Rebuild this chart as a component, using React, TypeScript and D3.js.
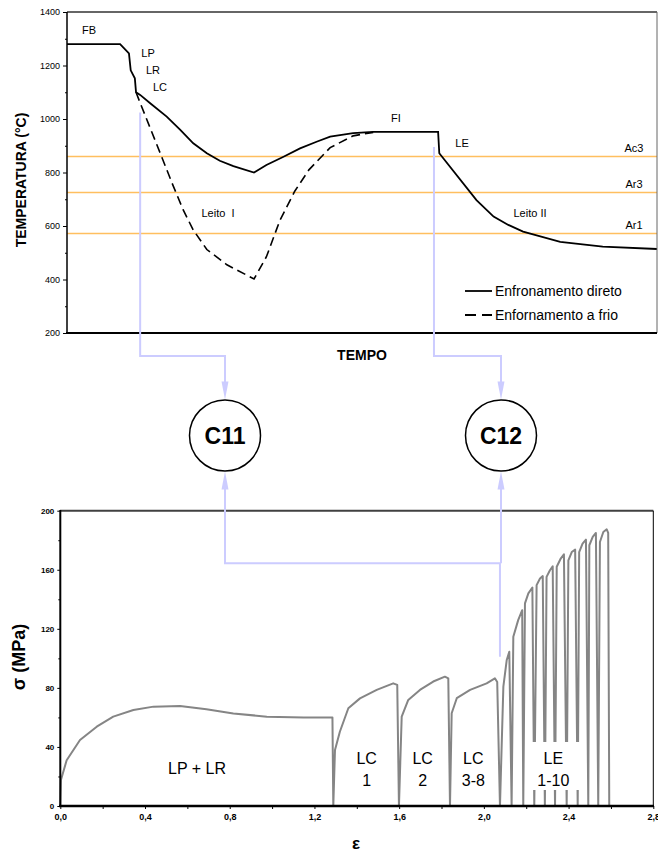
import React, { useEffect, useRef } from 'react';
import * as d3 from 'd3';

// Top chart: thermal schedule (time is schematic, 0-100)
const tempoDireto = [0, 9.0, 10.5, 10.8, 11.5, 11.7, 12.4, 14.1, 16.9, 19.2, 21.4, 23.7, 25.9, 28.2, 31.7, 33.8, 36.7, 39.5, 42.3, 44.6, 48.5, 51.9, 62.9, 63.1, 69.4, 72.3, 74.8, 77.3, 83.6, 90.8, 100];
const tempDireto = [1280, 1280, 1245, 1182, 1152, 1100, 1090, 1059, 1009, 959, 909, 872, 844, 824, 800, 828, 859, 890, 915, 934, 947, 952, 952, 872, 697, 635, 604, 579, 541, 523, 514];

const tempoFrio = [11.7, 12.4, 15.8, 18.0, 19.7, 21.4, 23.7, 27.1, 31.7, 33.8, 36.1, 38.6, 41.0, 44.6, 48.5, 51.9];
const tempFrio = [1100, 1060, 872, 750, 660, 585, 512, 455, 402, 485, 622, 730, 810, 893, 937, 950];

const critNomes = ['Ac3', 'Ar3', 'Ar1'];
const critTemps = [860, 725, 572];

const tempTicks = [200, 400, 600, 800, 1000, 1200, 1400];
const tempMinor = [300, 500, 700, 900, 1100, 1300];

// Bottom chart: stress-strain curve of the torsion simulation
const strain = [
  0, 0.003, 0.03, 0.093, 0.172, 0.25, 0.345, 0.44, 0.565, 0.69, 0.817, 0.975, 1.15, 1.273, 1.285, 1.289,
  1.297, 1.32, 1.36, 1.415, 1.494, 1.572, 1.591, 1.599,
  1.612, 1.643, 1.698, 1.761, 1.816, 1.832, 1.84,
  1.848, 1.872, 1.935, 2.013, 2.052, 2.063, 2.076,
  2.092, 2.108, 2.12, 2.131,
  2.139, 2.162, 2.181, 2.186,
  2.194, 2.21, 2.229, 2.238,
  2.249, 2.265, 2.278, 2.288,
  2.296, 2.312, 2.325, 2.336,
  2.344, 2.363, 2.378, 2.391,
  2.399, 2.415, 2.431, 2.443,
  2.45, 2.466, 2.482, 2.493,
  2.498, 2.514, 2.529, 2.54,
  2.548, 2.564, 2.58, 2.587, 2.592,
];
const stress = [
  0, 17.6, 31, 44.7, 53.7, 60.5, 65, 67.3, 67.7, 65.5, 62.7, 60.5, 60, 60, 59.9, 0,
  38, 50.3, 66.2, 72.9, 78.6, 83.1, 82, 0,
  60.5, 71.8, 78.6, 84.3, 87.6, 86.5, 0,
  62.8, 73, 78.6, 83.1, 86.5, 84, 0,
  80.8, 98.9, 104.5, 0,
  114.6, 125.9, 132.6, 0,
  137.2, 144, 148, 0,
  149.6, 154.1, 155.7, 0,
  155.2, 159.7, 162.4, 0,
  162, 167.6, 170.5, 0,
  166.4, 172, 173.6, 0,
  172, 177.7, 180.4, 0,
  176.6, 182.2, 184.9, 0,
  178.8, 185.6, 187.4, 185, 0,
];

const strainTicks = [0, 0.4, 0.8, 1.2, 1.6, 2.0, 2.4, 2.8];
const strainMinor = [0.2, 0.6, 1.0, 1.4, 1.8, 2.2, 2.6];
const stressTicks = [0, 40, 80, 120, 160, 200];
const stressMinor = [20, 60, 100, 140, 180];

const FONT = "'Liberation Sans', Arial, Helvetica, sans-serif";
const LAVENDER = '#CCCCFF';

function App() {
  const svgRef = useRef<SVGSVGElement>(null);
  const width = 658;
  const height = 854;

  useEffect(() => {
    if (!svgRef.current) return;
    const svg = d3.select(svgRef.current);
    svg.selectAll('*').remove();
    svg.style('font-family', FONT);

    // ---------- top chart ----------
    const xTop = d3.scaleLinear().domain([0, 100]).range([67, 657]);
    const yTop = d3.scaleLinear().domain([200, 1400]).range([333, 12]);

    const top = svg.append('g');

    // critical temperature lines
    top.selectAll('.crit')
      .data(critTemps)
      .enter().append('line')
      .attr('x1', xTop(0)).attr('x2', xTop(100))
      .attr('y1', d => yTop(d)).attr('y2', d => yTop(d))
      .attr('stroke', '#FFBF5F')
      .attr('stroke-width', 1.6);

    top.selectAll('.critLabel')
      .data(critTemps)
      .enter().append('text')
      .attr('x', 634)
      .attr('y', d => yTop(d) - 8)
      .attr('text-anchor', 'middle')
      .attr('dy', '0.35em')
      .style('font-size', '11px')
      .text((d, i) => critNomes[i]);

    const tempLine = d3.line<[number, number]>()
      .x(d => xTop(d[0]))
      .y(d => yTop(d[1]));

    top.append('path')
      .attr('d', tempLine(tempoFrio.map((t, i) => [t, tempFrio[i]] as [number, number])))
      .attr('fill', 'none')
      .attr('stroke', '#000')
      .attr('stroke-width', 1.6)
      .attr('stroke-dasharray', '9,5');

    top.append('path')
      .attr('d', tempLine(tempoDireto.map((t, i) => [t, tempDireto[i]] as [number, number])))
      .attr('fill', 'none')
      .attr('stroke', '#000')
      .attr('stroke-width', 1.8);

    // frame
    top.append('line').attr('x1', 67).attr('x2', 657).attr('y1', 12).attr('y2', 12)
      .attr('stroke', '#333').attr('stroke-width', 1.5);
    top.append('line').attr('x1', 657).attr('x2', 657).attr('y1', 12).attr('y2', 333)
      .attr('stroke', '#666').attr('stroke-width', 1);
    top.append('line').attr('x1', 67).attr('x2', 67).attr('y1', 12).attr('y2', 333)
      .attr('stroke', '#000').attr('stroke-width', 1.5);
    top.append('line').attr('x1', 66).attr('x2', 657).attr('y1', 333).attr('y2', 333)
      .attr('stroke', '#000').attr('stroke-width', 2);

    const yAxisTop = top.append('g')
      .attr('transform', 'translate(67,0)')
      .call(d3.axisLeft(yTop).tickValues(tempTicks).tickSize(4).tickPadding(3).tickFormat(d3.format('d')));
    yAxisTop.select('.domain').remove();
    yAxisTop.selectAll('text').style('font-size', '9px').style('font-family', FONT).attr('fill', '#000');
    const yMinorTop = top.append('g')
      .attr('transform', 'translate(67,0)')
      .call(d3.axisLeft(yTop).tickValues(tempMinor).tickSize(2).tickFormat(() => ''));
    yMinorTop.select('.domain').remove();

    // annotations on top chart
    const notas: [string, number, number][] = [
      ['FB', 89, 30], ['LP', 148, 53], ['LR', 153, 70], ['LC', 160, 87],
      ['FI', 396, 118], ['LE', 462, 143], ['Leito  I', 218, 213], ['Leito II', 530, 213],
    ];
    top.selectAll('.nota')
      .data(notas)
      .enter().append('text')
      .attr('x', d => d[1]).attr('y', d => d[2])
      .attr('dy', '0.35em')
      .attr('text-anchor', 'middle')
      .style('font-size', '11px')
      .style('white-space', 'pre')
      .attr('xml:space', 'preserve')
      .text(d => d[0]);

    // legend
    top.append('line').attr('x1', 465).attr('x2', 492).attr('y1', 291).attr('y2', 291)
      .attr('stroke', '#000').attr('stroke-width', 1.8);
    top.append('text').attr('x', 495).attr('y', 291).attr('dy', '0.35em')
      .style('font-size', '14px').text('Enfronamento direto');
    top.append('line').attr('x1', 465).attr('x2', 492).attr('y1', 315).attr('y2', 315)
      .attr('stroke', '#000').attr('stroke-width', 1.8).attr('stroke-dasharray', '11,6');
    top.append('text').attr('x', 495).attr('y', 315).attr('dy', '0.35em')
      .style('font-size', '14px').text('Enfornamento a frio');

    // axis titles
    top.append('text')
      .attr('transform', 'translate(21,180) rotate(-90)')
      .attr('text-anchor', 'middle').attr('dy', '0.35em')
      .style('font-size', '14px').style('font-weight', 'bold')
      .text('TEMPERATURA (°C)');
    top.append('text')
      .attr('x', 362).attr('y', 355).attr('dy', '0.35em')
      .attr('text-anchor', 'middle')
      .style('font-size', '14px').style('font-weight', 'bold')
      .text('TEMPO');

    // ---------- bottom chart ----------
    const xBot = d3.scaleLinear().domain([0, 2.8]).range([60.3, 653.3]);
    const yBot = d3.scaleLinear().domain([0, 200]).range([806, 510.7]);
    const bot = svg.append('g');

    // connectors (drawn first, chart lines cover them)
    const conn = svg.append('g')
      .attr('fill', 'none')
      .attr('stroke', LAVENDER)
      .attr('stroke-width', 2);
    conn.append('path').attr('d', `M${xTop(12.4)},${yTop(1024)} V356 H225 V386`);
    conn.append('path').attr('d', `M${xTop(62.2)},${yTop(895)} V356 H501 V386`);
    conn.append('path').attr('d', `M225,486 V${yBot(164.4)} H${xBot(2.076)} V${yBot(101)}`);
    conn.append('path').attr('d', `M501,486 V${yBot(164.4)}`);
    const arrows: [number, number, number][] = [[225, 399.5, 1], [501, 399.5, 1], [225, 471.5, -1], [501, 471.5, -1]];
    svg.selectAll('.arrow')
      .data(arrows)
      .enter().append('path')
      .attr('d', d => `M${d[0]},${d[1]} L${d[0] - 3.5},${d[1] - d[2] * 18} L${d[0] + 3.5},${d[1] - d[2] * 18} Z`)
      .attr('fill', LAVENDER);

    // circles
    const circ: [string, number][] = [['C11', 225], ['C12', 501]];
    const cg = svg.selectAll('.circ').data(circ).enter().append('g');
    cg.append('circle')
      .attr('cx', d => d[1]).attr('cy', 435.5).attr('r', 35.5)
      .attr('fill', '#fff').attr('stroke', '#000').attr('stroke-width', 1.5);
    cg.append('text')
      .attr('x', d => d[1]).attr('y', 435.5).attr('dy', '0.36em')
      .attr('text-anchor', 'middle')
      .style('font-size', '23px').style('font-weight', 'bold')
      .text(d => d[0]);

    const stressLine = d3.line<number>()
      .x((d, i) => xBot(strain[i]))
      .y(d => yBot(d));

    bot.append('path')
      .attr('d', stressLine(stress))
      .attr('fill', 'none')
      .attr('stroke', '#858585')
      .attr('stroke-width', 2)
      .attr('stroke-linejoin', 'round');

    // pass labels
    const passes: [string, string, number][] = [
      ['LC', '1', 366.7], ['LC', '2', 422.7], ['LC', '3-8', 473.3], ['LE', '1-10', 553.3],
    ];
    bot.append('rect')
      .attr('x', 527).attr('y', 742).attr('width', 54).attr('height', 48)
      .attr('fill', '#fff');
    passes.forEach(p => {
      bot.append('text').attr('x', p[2]).attr('y', 758).attr('dy', '0.35em')
        .attr('text-anchor', 'middle').style('font-size', '16px').text(p[0]);
      bot.append('text').attr('x', p[2]).attr('y', 780).attr('dy', '0.35em')
        .attr('text-anchor', 'middle').style('font-size', '16px').text(p[1]);
    });
    bot.append('text').attr('x', 197).attr('y', 768).attr('dy', '0.35em')
      .attr('text-anchor', 'middle').style('font-size', '16px').text('LP + LR');

    // frame
    bot.append('line').attr('x1', 60).attr('x2', 653.3).attr('y1', 510.7).attr('y2', 510.7)
      .attr('stroke', '#404040').attr('stroke-width', 2);
    bot.append('line').attr('x1', 653.3).attr('x2', 653.3).attr('y1', 510.7).attr('y2', 806)
      .attr('stroke', '#000').attr('stroke-width', 1);
    bot.append('line').attr('x1', 60.3).attr('x2', 60.3).attr('y1', 510).attr('y2', 806)
      .attr('stroke', '#000').attr('stroke-width', 2);
    bot.append('line').attr('x1', 59).attr('x2', 654).attr('y1', 806).attr('y2', 806)
      .attr('stroke', '#000').attr('stroke-width', 2.5);

    const yAxisBot = bot.append('g')
      .attr('transform', 'translate(60.3,0)')
      .call(d3.axisLeft(yBot).tickValues(stressTicks).tickSize(3).tickPadding(3).tickFormat(d3.format('d')));
    yAxisBot.select('.domain').remove();
    yAxisBot.selectAll('text').style('font-size', '8px').style('font-weight', 'bold')
      .style('font-family', FONT).attr('fill', '#000');
    const yMinorBot = bot.append('g')
      .attr('transform', 'translate(60.3,0)')
      .call(d3.axisLeft(yBot).tickValues(stressMinor).tickSize(2).tickFormat(() => ''));
    yMinorBot.select('.domain').remove();

    const commaFmt = (d: d3.NumberValue) => d3.format('.1f')(+d).replace('.', ',');
    const xAxisBot = bot.append('g')
      .attr('transform', 'translate(0,806)')
      .call(d3.axisBottom(xBot).tickValues(strainTicks).tickSize(3).tickPadding(5).tickFormat(commaFmt));
    xAxisBot.select('.domain').remove();
    xAxisBot.selectAll('text').style('font-size', '9px').style('font-weight', 'bold')
      .style('font-family', FONT).attr('fill', '#000');
    const xMinorBot = bot.append('g')
      .attr('transform', 'translate(0,806)')
      .call(d3.axisBottom(xBot).tickValues(strainMinor).tickSize(3).tickFormat(() => ''));
    xMinorBot.select('.domain').remove();

    bot.append('text')
      .attr('transform', 'translate(19,657) rotate(-90)')
      .attr('text-anchor', 'middle').attr('dy', '0.35em')
      .style('font-size', '18px').style('font-weight', 'bold')
      .text('σ (MPa)');
    bot.append('text')
      .attr('x', 356).attr('y', 843).attr('dy', '0.35em')
      .attr('text-anchor', 'middle')
      .style('font-size', '17px').style('font-weight', 'bold')
      .text('ε');
  }, []);

  return (
    <svg
      ref={svgRef}
      width={width}
      height={height}
      style={{ position: 'absolute', left: 0, top: 0, background: '#fff' }}
    ></svg>
  );
}

export default App;
